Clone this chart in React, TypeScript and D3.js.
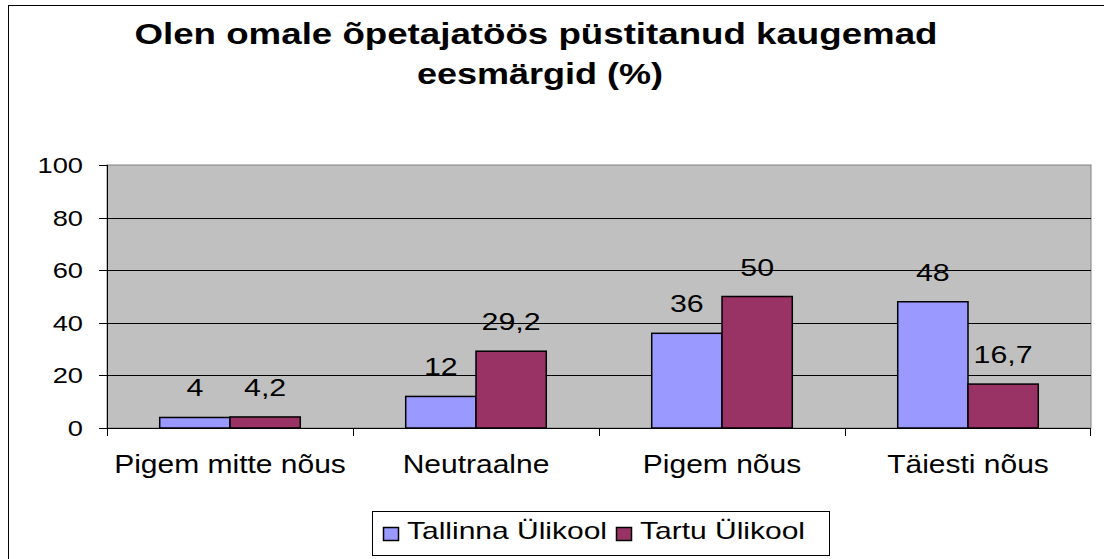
import React from "react";
import * as d3 from "d3";

const categories = ["Pigem mitte nõus", "Neutraalne", "Pigem nõus", "Täiesti nõus"];
const seriesNames = ["Tallinna Ülikool", "Tartu Ülikool"];
const tallinnValues = [4, 12, 36, 48];
const tartuValues = [4.2, 29.2, 50, 16.7];
const valueLabelsTallinn = ["4", "12", "36", "48"];
const valueLabelsTartu = ["4,2", "29,2", "50", "16,7"];
const yTicks = [0, 20, 40, 60, 80, 100];
const titleLines = ["Olen omale õpetajatöös püstitanud kaugemad", "eesmärgid (%)"];
const colors = ["#9999FF", "#993366"];

const W = 1104;
const H = 559;
const plot = { left: 107, right: 1091, top: 165, bottom: 428 };
const FONT = "Arial, 'Liberation Sans', sans-serif";
const SX = 1.2;

function SText({ x, y, anchor, size, children, bold, sx = SX }: any) {
  return (
    <text
      transform={`translate(${x},${y}) scale(${sx},1)`}
      textAnchor={anchor}
      fontFamily={FONT}
      fontSize={size}
      fontWeight={bold ? "bold" : "normal"}
      fill="#000"
    >
      {children}
    </text>
  );
}

export default function App() {
  const x0 = d3.scaleBand<string>().domain(categories).range([plot.left, plot.right]).paddingInner(0).paddingOuter(0);
  const groupW = x0.bandwidth();
  const barW = groupW / 3.5;
  const y = d3.scaleLinear().domain([0, 100]).range([plot.bottom, plot.top]);
  const series = [tallinnValues, tartuValues];
  const labels = [valueLabelsTallinn, valueLabelsTartu];

  return (
    <svg width={W} height={H} style={{ position: "absolute", left: 0, top: 0 }}>
      <rect x={0} y={0} width={W} height={H} fill="#fff" />
      <rect x={8.5} y={5.5} width={1110} height={570} fill="#fff" stroke="#000" strokeWidth={1} />
      {/* title */}
      <text x={536} y={44} textAnchor="middle" fontFamily={FONT} fontSize={29} fontWeight="bold" textLength={803} lengthAdjust="spacingAndGlyphs">
        {titleLines[0]}
      </text>
      <text x={540} y={84} textAnchor="middle" fontFamily={FONT} fontSize={29} fontWeight="bold" textLength={246} lengthAdjust="spacingAndGlyphs">
        {titleLines[1]}
      </text>
      {/* plot area */}
      <rect x={plot.left} y={plot.top} width={plot.right - plot.left} height={plot.bottom - plot.top} fill="#C0C0C0" stroke="#808080" strokeWidth={1} />
      {yTicks.filter((t) => t > 0 && t < 100).map((t) => (
        <line key={t} x1={plot.left} x2={plot.right} y1={Math.round(y(t)) + 0.5} y2={Math.round(y(t)) + 0.5} stroke="#000" strokeWidth={1} />
      ))}
      {/* bars */}
      {categories.map((c, i) =>
        series.map((vals, s) => {
          const bx = (x0(c) as number) + (groupW - 2 * barW) / 2 + s * barW;
          return (
            <rect key={`${c}-${s}`} x={bx} y={y(vals[i])} width={barW} height={plot.bottom - y(vals[i])} fill={colors[s]} stroke="#000" strokeWidth={1.5} />
          );
        })
      )}
      {/* value labels */}
      {categories.map((c, i) =>
        series.map((vals, s) => {
          const bx = (x0(c) as number) + (groupW - 2 * barW) / 2 + s * barW + barW / 2;
          return (
            <SText key={`l-${c}-${s}`} x={bx} y={y(vals[i]) - 21} anchor="middle" size={23} sx={1.32}>
              {labels[s][i]}
            </SText>
          );
        })
      )}
      {/* axes */}
      <line x1={plot.left + 0.5} x2={plot.left + 0.5} y1={plot.top} y2={plot.bottom} stroke="#000" />
      <line x1={plot.left} x2={plot.right} y1={plot.bottom + 0.5} y2={plot.bottom + 0.5} stroke="#000" />
      {yTicks.map((t) => (
        <g key={`yt-${t}`}>
          <line x1={plot.left - 8} x2={plot.left} y1={Math.round(y(t)) + 0.5} y2={Math.round(y(t)) + 0.5} stroke="#000" />
          <SText x={83} y={y(t) + 8} anchor="end" size={22} sx={1.24}>
            {String(t)}
          </SText>
        </g>
      ))}
      {categories.map((c, i) => (
        <line key={`xt-${i}`} x1={Math.round(x0(c) as number) + 0.5} x2={Math.round(x0(c) as number) + 0.5} y1={plot.bottom} y2={plot.bottom + 8} stroke="#000" />
      ))}
      <line x1={plot.right - 0.5} x2={plot.right - 0.5} y1={plot.bottom} y2={plot.bottom + 8} stroke="#000" />
      {categories.map((c) => (
        <SText key={`xl-${c}`} x={(x0(c) as number) + groupW / 2} y={473} anchor="middle" size={25} sx={1.2}>
          {c}
        </SText>
      ))}
      {/* legend */}
      <rect x={372.5} y={511.5} width={457} height={44} fill="#fff" stroke="#000" />
      {seriesNames.map((n, s) => {
        const sx = s === 0 ? 383 : 616;
        return (
          <g key={n}>
            <rect x={sx + 0.5} y={527.5} width={15} height={13} fill={colors[s]} stroke="#000" strokeWidth={1.5} />
            <SText x={sx + 24} y={539} anchor="start" size={24} sx={1.25}>
              {n}
            </SText>
          </g>
        );
      })}
    </svg>
  );
}
